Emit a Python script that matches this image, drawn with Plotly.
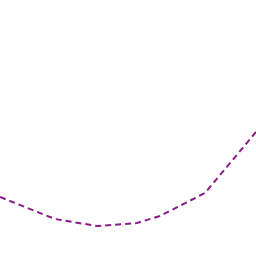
import plotly.graph_objects as go

x_vals = [0, 55, 97, 137, 160, 205, 256]
y_vals = [59, 37, 30, 33, 40, 63, 124]

fig = go.Figure()
fig.add_trace(go.Scatter(x=x_vals, y=y_vals, mode="lines",
                         line=dict(color="#8b1a89", width=2, dash="6px,4px"),
                         hoverinfo="skip"))
fig.update_layout(width=256, height=256, margin=dict(l=0, r=0, t=0, b=0),
                  paper_bgcolor="white", plot_bgcolor="white", showlegend=False)
fig.update_xaxes(range=[0, 256], visible=False)
fig.update_yaxes(range=[0, 256], visible=False)
fig.write_html("out.html")
